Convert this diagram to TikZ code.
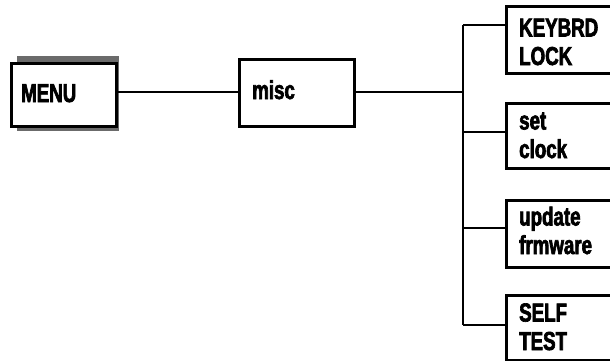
\documentclass[tikz,border=0pt]{standalone}
\usepackage{fontspec}
\newfontfamily\lblfont{Liberation Sans Bold}[FakeStretch=0.72,FakeBold=2.5]
\begin{document}
\begin{tikzpicture}[x=1pt,y=-1pt,
  box/.style={draw=black,line width=3pt,fill=white,rectangle,inner sep=0pt,anchor=north west},
  wire/.style={draw=black,line width=2.8pt},
  lbl/.style={font=\fontsize{26}{28.5}\selectfont\lblfont,anchor=base west,inner sep=0pt,align=left}]
\useasboundingbox (0,0) rectangle (610,360);
\fill[white] (0,0) rectangle (610,360);
\begin{scope}
\clip (0,0) rectangle (610,360);
% shadow of MENU
\fill[black!58] (17,56) rectangle (119,131);
\node[box,minimum width=105pt,minimum height=63pt] (menu) at (10,62) {};
\node[box,minimum width=115pt,minimum height=67pt] (misc) at (238,58) {};
\node[box,minimum width=130pt,minimum height=67pt] (kb) at (505,5) {};
\node[box,minimum width=130pt,minimum height=65pt] (clk) at (505,102) {};
\node[box,minimum width=130pt,minimum height=67pt] (upd) at (505,199) {};
\node[box,minimum width=130pt,minimum height=65pt] (st) at (505,294) {};
\node[lbl] (tmenu) at (21,102) {MENU};
\node[lbl] (tmisc) at (252,99) {misc};
\node[lbl] (tkb) at (519,65) {KEYBRD\\LOCK};
\node[lbl] (tclk) at (519,158) {set\\clock};
\node[lbl] (tupd) at (519,254) {update\\frmware};
\node[lbl] (tst) at (519,350) {SELF\\TEST};
\coordinate (j) at (463,92);
\coordinate (jt) at (463,25);
\coordinate (jb) at (463,325);
\draw[wire] (menu.east |- 0,92) -- (misc.west |- 0,92);
\draw[wire] (misc.east |- 0,92) -- (j);
\draw[wire] (jt) -- (jb);
\draw[wire] (jt) -- (kb.west |- jt);
\draw[wire] (463,132) -- (clk.west |- 0,132);
\draw[wire] (463,228) -- (upd.west |- 0,228);
\draw[wire] (jb) -- (st.west |- jb);
\end{scope}
\end{tikzpicture}
\end{document}
